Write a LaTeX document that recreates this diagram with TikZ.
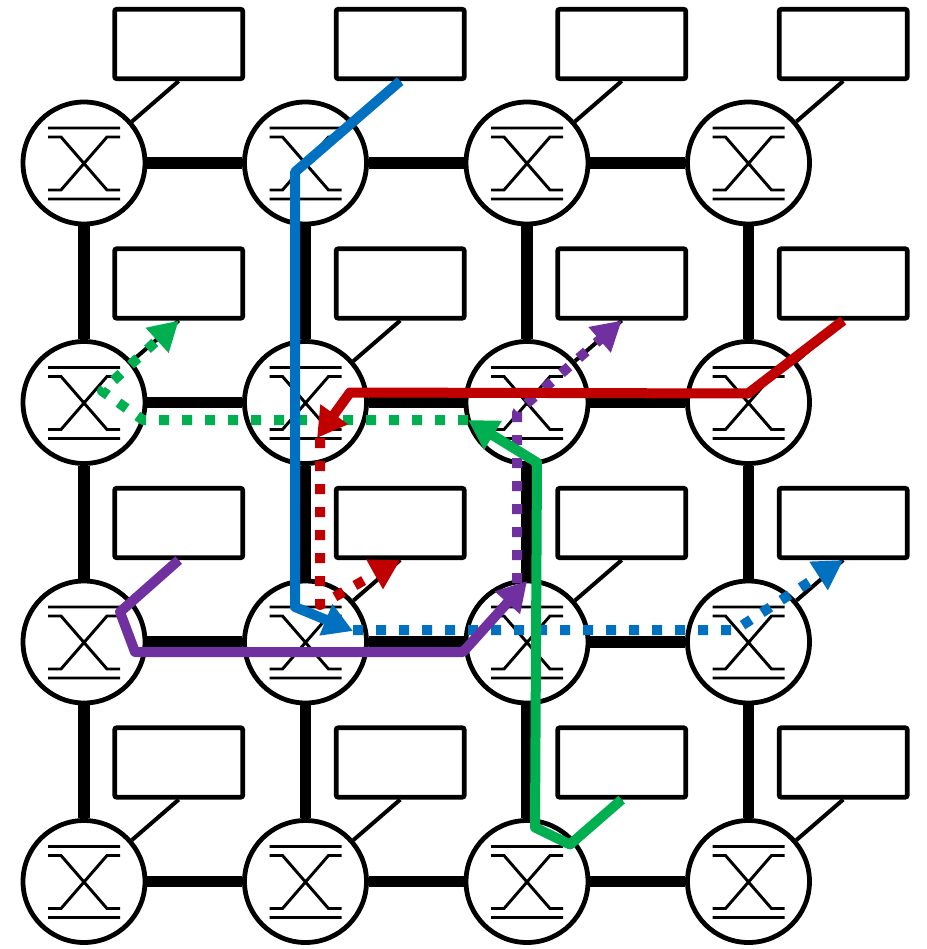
\documentclass[tikz,border=0pt]{standalone}
\definecolor{flowblue}{RGB}{0,112,192}
\definecolor{flowred}{RGB}{192,0,0}
\definecolor{flowgreen}{RGB}{0,176,80}
\definecolor{flowpurple}{RGB}{112,48,160}
\usepackage{tikz}
\usetikzlibrary{arrows.meta}

\begin{document}
\begin{tikzpicture}[x=0.75pt, y=-0.75pt,
      router/.style={circle, draw, line width=3.6pt, fill=white,
                     minimum size=91.5pt, inner sep=0pt},
      pe/.style={draw, line width=3.6pt, fill=white, rounded corners=1.5pt,
                 minimum width=96pt, minimum height=52pt, inner sep=0pt},
      link/.style={line width=8.5pt},
      pelink/.style={line width=3pt},
      sym/.style={line width=2.2pt},
      flow/.style={line width=7.5pt, line join=round},
      flowdots/.style={dash pattern=on 7.5pt off 9.75pt},
      flowhead/.style={-{Triangle[length=22pt,width=24pt]}}
  ]
    \fill[white] (0,0) rectangle (926,949);
    % routers and processing elements
    \foreach \row in {1,...,4}
      \foreach \col in {1,...,4} {
        \node[router] (r\row\col) at ({84+221.5*(\col-1)},{163+239.5*(\row-1)}) {};
        \node[pe] (p\row\col) at ([shift={(94.7,-119)}]r\row\col.center) {};
        \draw[sym, shift={(r\row\col)}]
          (-36,-35) -- (36,-35) (-36,36) -- (36,36)
          (-36,-26) -- (-23,-26) -- (23,27) -- (36,27)
          (36,-26) -- (23,-26) -- (-23,27) -- (-36,27);
      }
    % mesh links
    \foreach \row in {1,...,4}
      \foreach \col/\nxt in {1/2,2/3,3/4}
        \draw[link] (r\row\col) -- (r\row\nxt);
    \foreach \row/\nxt in {1/2,2/3,3/4}
      \foreach \col in {1,...,4}
        \draw[link] (r\row\col) -- (r\nxt\col);
    \foreach \row in {1,...,4}
      \foreach \col in {1,...,4}
        \draw[pelink] (r\row\col) -- (p\row\col.south);
    % second hops (dotted)
    \draw[flow, flowdots, flowblue, flowhead] ([shift={(47.5,-12)}]r32.center)
      -- ([shift={(-13.5,-12)}]r34.center) -- (p34.south);
    \draw[flow, flowdots, flowgreen, flowhead] ([shift={(-59,17.5)}]r23.center)
      -- ([shift={(59,17.5)}]r21.center) -- ([shift={(18,-11.5)}]r21.center) -- (p21.south);
    \draw[flow, flowdots, flowpurple, flowhead] ([shift={(-10,-59)}]r33.center)
      -- ([shift={(-10,9.5)}]r23.center) -- (p23.south);
    \draw[flow, flowdots, flowred, flowhead] ([shift={(14.5,35.5)}]r22.center)
      -- ([shift={(14.5,-37)}]r32.center) -- (p32.south);
    % first hops (solid)
    \draw[flow, flowpurple, flowhead] (p31.south) -- ([shift={(36,-30)}]r31.center)
      -- ([shift={(51,10)}]r31.center) -- ([shift={(-64,10)}]r33.center)
      -- ([shift={(0,-61)}]r33.center);
    \draw[flow, flowblue, flowhead] (p12.south) -- ([shift={(-10.5,9)}]r12.center)
      -- ([shift={(-10.5,-35)}]r32.center) -- ([shift={(47.5,-11)}]r32.center);
    \draw[flow, flowred, flowhead] (p24.south) -- ([shift={(-0.5,-9)}]r24.center)
      -- ([shift={(44.5,-10)}]r22.center) -- ([shift={(11.5,35.5)}]r22.center);
    \draw[flow, flowgreen, flowhead] (p43.south) -- ([shift={(43,-37)}]r43.center)
      -- ([shift={(8,-54)}]r43.center) -- ([shift={(10,60)}]r23.center)
      -- ([shift={(-59,17.5)}]r23.center);
  \end{tikzpicture}
\end{document}
